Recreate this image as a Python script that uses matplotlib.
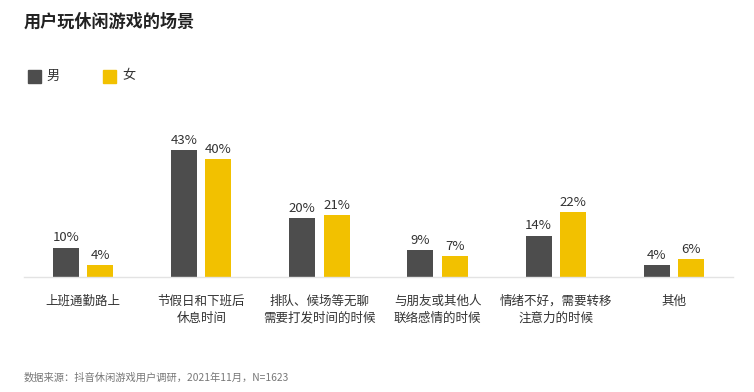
import matplotlib.pyplot as plt
import numpy as np

plt.rcParams['font.family'] = ['Noto Sans CJK SC', 'DejaVu Sans']

categories = ["上班通勤路上", "节假日和下班后\n休息时间", "排队、候场等无聊\n需要打发时间的时候",
              "与朋友或其他人\n联络感情的时候", "情绪不好，需要转移\n注意力的时候", "其他"]
male = [10, 43, 20, 9, 14, 4]
female = [4, 40, 21, 7, 22, 6]

c_male = "#4d4d4d"
c_female = "#f2c100"
text_c = "#333333"

fig = plt.figure(figsize=(7.54, 3.92), dpi=100)
ax = fig.add_axes([24 / 754, 1 - 277 / 392, (733 - 24) / 754, 147.5 / 392])

x = np.arange(len(categories))
off, w = 0.145, 0.22
b1 = ax.bar(x - off, male, w, color=c_male)
b2 = ax.bar(x + off, female, w, color=c_female)
for bars, vals in ((b1, male), (b2, female)):
    for b, v in zip(bars, vals):
        ax.annotate(f"{v}%", (b.get_x() + b.get_width() / 2, v), xytext=(0, 2.5),
                    textcoords="offset points", ha="center", va="bottom",
                    fontsize=9.5, color=text_c)

ax.set_xlim(-0.5, 5.5)
ax.set_ylim(0, 50)
ax.set_yticks([])
ax.set_xticks(x)
ax.set_xticklabels(categories, fontsize=9, color=text_c, linespacing=1.35)
ax.tick_params(axis="x", length=0, pad=13)
for s in ["top", "right", "left"]:
    ax.spines[s].set_visible(False)
ax.spines["bottom"].set_color("#e3e3e3")
ax.spines["bottom"].set_linewidth(1)

fig.text(24 / 754, 1 - 22 / 392, "用户玩休闲游戏的场景", fontsize=12.3,
         fontweight="bold", color="#222222", va="center")

# legend
fig.patches.append(plt.Rectangle((28 / 754, 1 - 83 / 392), 13 / 754, 13 / 392,
                                 transform=fig.transFigure, color=c_male))
fig.text(46 / 754, 1 - 76 / 392, "男", fontsize=9.5, color=text_c, va="center")
fig.patches.append(plt.Rectangle((103 / 754, 1 - 83 / 392), 13 / 754, 13 / 392,
                                 transform=fig.transFigure, color=c_female))
fig.text(122 / 754, 1 - 76 / 392, "女", fontsize=9.5, color=text_c, va="center")

fig.text(24 / 754, 1 - 378 / 392, "数据来源：抖音休闲游戏用户调研，2021年11月，N=1623",
         fontsize=7.4, color="#777777", va="center")

fig.savefig("out.png", dpi=100)
